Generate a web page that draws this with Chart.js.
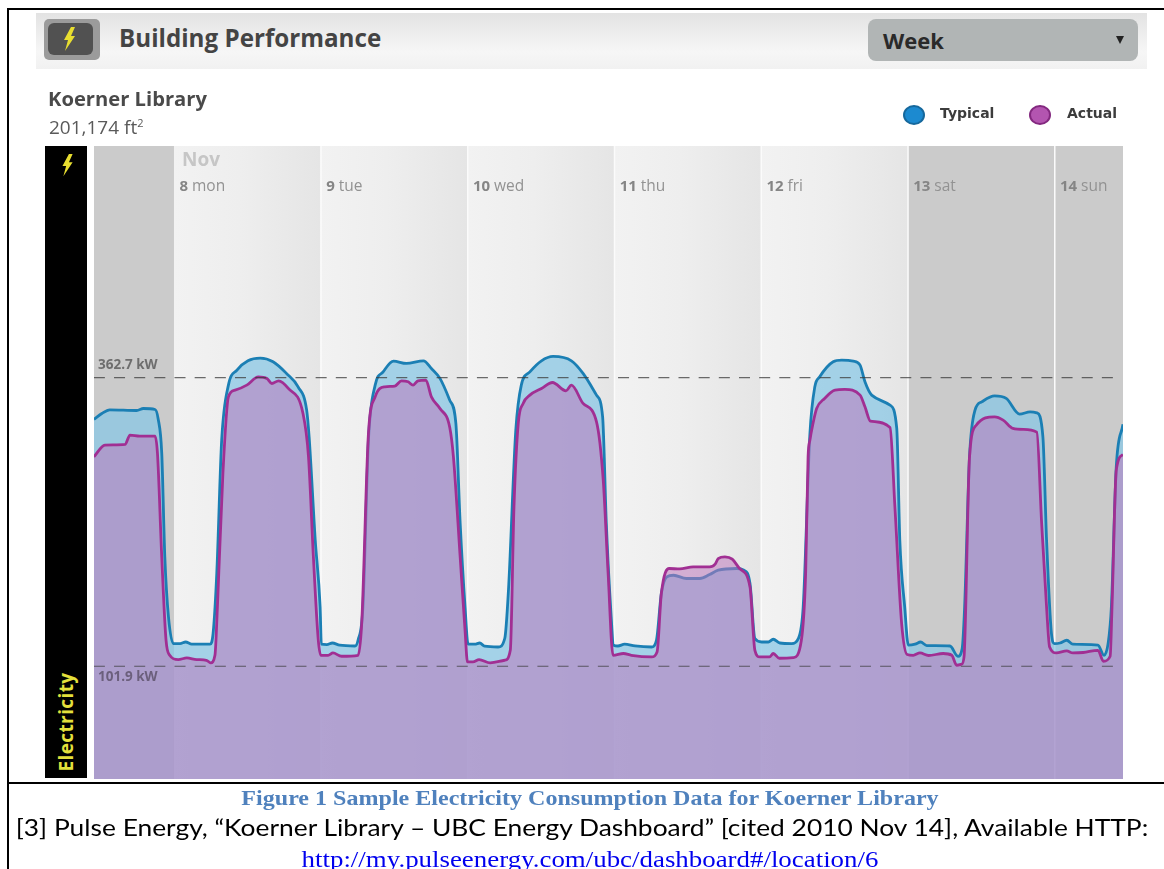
<!DOCTYPE html>
<html lang="en">
<head>
  <meta charset="UTF-8">
  <title>Koerner Library - Building Performance</title>
  <script src="https://cdn.jsdelivr.net/npm/chart.js"></script>
  <style>
    html, body { margin: 0; padding: 0; background: #fff; overflow: hidden; }
    #page { position: relative; width: 1164px; height: 869px; overflow: hidden; font-family: "Open Sans", sans-serif; }
    #page > * { position: absolute; }
    #myChart { left: 0; top: 0; }
    .rule { background: #000; }
    #headerBar { left: 36px; top: 13px; width: 1111px; height: 56px; background: linear-gradient(#e3e3e3, #f6f6f6 70%, #f1f1f1); }
    #iconBox { left: 44px; top: 19px; width: 56px; height: 41px; background: #9b9b9b; border-radius: 5px; }
    #iconInner { left: 48px; top: 23px; width: 45px; height: 32px; background: #515151; border-radius: 6px; }
    #title { left: 119px; top: 21px; font-size: 24.2px; line-height: 34px; font-weight: 700; color: #444; white-space: nowrap; }
    #selectBox { left: 868px; top: 19px; width: 270px; height: 42px; background: #b1b5b5; border-radius: 8px; }
    #selectText { left: 883px; top: 24px; font-size: 22px; line-height: 32px; font-weight: 700; color: #2a2a2a; }
    #selectArrow { left: 1116px; top: 36px; width: 0; height: 0; border-left: 4px solid transparent; border-right: 4px solid transparent; border-top: 8px solid #222; }
    #building { left: 48px; top: 84px; font-size: 20.2px; line-height: 28px; font-weight: 700; color: #4a4a4a; white-space: nowrap; }
    #area { left: 49px; top: 113px; font-size: 19px; line-height: 28px; color: #5a5a5a; white-space: nowrap; }
    #area sup { font-size: 11px; line-height: 0; }
    .dot { width: 22px; height: 20px; border-radius: 50%; box-sizing: border-box; }
    #dotTypical { left: 903px; top: 105px; background: #1c8ad0; border: 2px solid #16689c; }
    #dotActual { left: 1029px; top: 105px; background: #b355b0; border: 2px solid #83287f; }
    .legendText { top: 103px; font-family: "DejaVu Sans", sans-serif; font-size: 14px; line-height: 20px; font-weight: 700; color: #3c3c3c; }
    #sideBar { left: 45px; top: 146px; width: 42px; height: 632px; background: #000; }
    #sideText { left: 66px; top: 722px; transform: translate(-50%, -50%) rotate(-90deg); font-size: 19px; line-height: 24px; font-weight: 700; letter-spacing: 0.4px; color: #e4e03c; white-space: nowrap; }
    .caption { left: 0; width: 1164px; text-align: center; white-space: nowrap; }
    #figCaption { left: 8px; top: 785px; font-family: "Liberation Serif", serif; font-size: 21px; line-height: 26px; font-weight: 700; color: #4f81bd; transform: scaleX(1.145); }
    #citation { left: 0; top: 811px; font-family: Lato, sans-serif; font-size: 23.5px; line-height: 32px; color: #000; transform: scaleX(1.122); }
    #link { left: 8px; top: 846px; font-family: "Liberation Serif", serif; font-size: 24px; line-height: 26px; color: #0000ee; transform: scaleX(1.12); }
  </style>
</head>
<body>
<div id="page">
  <canvas id="myChart" width="1164" height="869"></canvas>

  <div class="rule" style="left:8px;top:8px;width:1156px;height:2px"></div>
  <div class="rule" style="left:7px;top:8px;width:2px;height:861px"></div>
  <div class="rule" style="left:8px;top:782px;width:1156px;height:2px"></div>

  <div id="headerBar"></div>
  <div id="iconBox"></div>
  <div id="iconInner"></div>
  <svg style="left:62px;top:27px" width="16" height="26" viewBox="0 0 16 26"><polygon points="9,0 2,13 6,13 3,24 13,9 9,9 13,0" fill="#e8de30"/></svg>
  <div id="title">Building Performance</div>
  <div id="selectBox"></div>
  <div id="selectText">Week</div>
  <div id="selectArrow"></div>

  <div id="building">Koerner Library</div>
  <div id="area">201,174 ft<sup>2</sup></div>

  <div class="dot" id="dotTypical"></div>
  <div class="legendText" style="left:940px">Typical</div>
  <div class="dot" id="dotActual"></div>
  <div class="legendText" style="left:1067px">Actual</div>

  <div id="sideBar"></div>
  <svg style="left:60px;top:154px" width="16" height="24" viewBox="0 0 16 26"><polygon points="9,0 2,13 6,13 3,24 13,9 9,9 13,0" fill="#e8de30"/></svg>
  <div id="sideText">Electricity</div>

  <div class="caption" id="figCaption">Figure 1 Sample Electricity Consumption Data for Koerner Library</div>
  <div class="caption" id="citation">[3] Pulse Energy, “Koerner Library – UBC Energy Dashboard” [cited 2010 Nov 14], Available HTTP:</div>
  <div class="caption" id="link">http://my.pulseenergy.com/ubc/dashboard#/location/6</div>
</div>

<script>
  // hours counted from the start of Nov 8, kW
  const typicalHours = [-13.1,-11.8,-10.5,-6.1,-5.0,-3.1,-2.6,-2.0,-1.5,-0.9,-0.1,1.0,1.9,2.9,5.9,6.4,7.0,7.8,8.9,10.3,12.1,14.1,16.2,18.4,20.3,21.7,22.1,23.1,23.9,
    24.1,25.0,25.9,27.1,29.6,30.1,30.9,31.8,32.9,34.2,35.9,38.0,40.8,42.1,43.5,45.1,46.1,46.8,47.6,
    48.1,49.2,50.0,50.8,53.0,54.1,54.7,55.9,56.8,58.2,60.1,62.0,65.0,66.9,69.1,70.1,70.7,71.4,
    71.9,72.6,73.7,75.4,78.1,78.9,79.7,80.6,81.7,83.8,86.0,87.6,89.0,92.0,93.2,94.2,95.0,
    96.1,97.2,98.0,99.1,101.0,102.1,102.9,104.0,104.8,105.6,107.8,109.2,111.1,112.2,113.0,114.1,117.1,118.2,118.7,119.5,
    120.1,121.2,122.1,123.1,126.9,128.2,128.9,129.3,130.1,131.0,132.1,134.2,136.1,138.3,140.0,141.1,142.1,142.7,143.5,
    144.0,144.9,146.0,147.0,151.1,152.1,152.8,153.3,154.1,155.2];
  const typicalKw = [324.9,330.3,333.6,333.0,334.8,333.9,325.8,294.2,200.7,146.4,122.4,122.4,123.8,121.8,121.8,131.7,186.0,306.2,355.9,369.5,377.9,380.3,377.0,366.5,354.4,333.3,309.2,215.8,155.5,
    121.8,121.5,122.9,120.9,120.2,125.4,155.5,306.2,355.9,367.9,377.6,375.5,377.9,371.0,362.0,342.3,321.3,231.2,155.5,
    121.8,121.8,122.9,120.0,119.3,127.2,170.6,315.2,355.9,367.9,377.9,381.9,377.9,366.5,346.9,327.2,231.2,155.5,
    120.9,120.2,121.8,120.2,119.3,125.4,167.6,182.6,184.1,181.2,181.2,184.8,188.7,190.2,188.7,176.6,126.9,
    123.8,123.8,126.3,122.9,122.4,126.9,155.5,312.2,354.4,363.4,377.0,378.5,377.6,374.0,358.9,346.9,337.8,316.8,215.8,155.5,
    120.9,121.8,123.8,120.6,120.2,110.9,117.9,155.5,291.1,333.3,340.8,346.2,343.9,329.7,331.8,330.9,309.2,215.8,131.4,
    122.4,122.9,125.4,121.8,120.9,111.8,123.8,155.5,282.0,320.6];

  const actualHours = [-13.1,-11.3,-8.0,-7.2,-5.6,-3.1,-2.7,-2.0,-1.3,-0.7,0.7,2.1,3.7,5.3,6.0,6.7,7.1,8.0,8.9,10.0,11.9,13.8,15.2,16.0,17.1,18.7,21.1,22.0,22.8,23.6,
    24.0,25.2,26.0,27.4,30.1,30.7,31.8,32.9,34.5,36.1,37.2,38.3,39.1,39.9,41.2,42.1,43.5,45.1,45.7,46.8,47.6,
    48.0,48.9,49.9,51.7,54.1,55.0,55.6,56.3,57.1,58.2,60.1,61.9,64.1,65.0,66.9,69.1,70.2,71.0,71.8,
    73.5,74.8,78.1,79.0,79.7,81.0,82.7,84.9,87.6,88.5,89.0,90.1,91.3,92.5,94.2,95.0,95.8,
    97.4,98.0,99.0,101.3,102.6,103.3,103.7,104.0,104.5,105.1,106.4,108.1,109.7,112.2,113.0,113.9,117.1,117.9,119.0,119.9,
    120.9,122.0,123.4,125.8,127.2,128.0,128.8,129.2,130.1,131.2,134.2,135.6,137.2,138.9,141.1,141.9,142.7,143.2,
    144.3,146.0,147.0,148.7,151.1,152.0,153.1,153.4,154.1,155.2];
  const actualKw = [291.1,301.7,302.3,310.7,309.8,309.8,294.2,200.7,125.4,111.8,107.9,109.4,107.9,107.3,104.9,111.8,155.5,276.1,345.3,351.4,355.9,363.4,362.0,357.4,359.8,352.9,330.3,291.1,200.7,125.4,
    111.8,111.8,113.9,110.9,111.8,140.8,312.2,345.3,354.4,355.0,359.8,358.9,355.9,359.8,360.4,345.3,334.8,317.7,291.1,200.7,134.4,
    105.8,105.8,107.9,104.9,107.3,116.3,245.9,321.3,339.4,346.9,352.9,358.3,350.8,355.9,339.4,322.7,270.0,185.7,111.8,
    113.4,111.8,110.3,114.8,167.6,190.2,189.8,191.6,191.6,194.1,199.2,200.7,198.6,190.2,173.6,116.3,110.3,
    110.3,113.4,109.1,109.7,125.4,186.0,291.1,306.2,321.3,334.8,343.9,351.4,352.0,346.9,336.3,323.4,317.7,245.9,140.5,112.5,
    111.8,113.9,111.6,113.4,111.8,102.8,103.7,110.3,291.1,319.7,327.2,324.3,316.8,315.9,313.4,230.9,155.5,119.3,
    113.9,115.7,113.9,114.3,116.3,106.4,110.9,155.5,279.1,293.3];

  const dayStarts = [0, 24, 48, 72, 96, 120, 144];
  const dayNumbers = ["8", "9", "10", "11", "12", "13", "14"];
  const dayNames = ["mon", "tue", "wed", "thu", "fri", "sat", "sun"];
  const guideValues = [362.7, 101.9];
  const guideLabels = ["362.7 kW", "101.9 kW"];
  const guideRange = [-13.1, 153.6];
  const monthLabel = "Nov";

  function pairs(xs, ys) {
    return xs.map(function (x, i) { return { x: x, y: ys[i] }; });
  }

  // day bands and their labels, placed through the chart's x scale
  const dayBands = {
    id: "dayBands",
    beforeDatasetsDraw: function (chart) {
      const ctx = chart.ctx;
      const a = chart.chartArea;
      const xs = chart.scales.x;
      ctx.save();
      // tail of the sunday before
      ctx.fillStyle = "#cbcbcb";
      ctx.fillRect(a.left, a.top, xs.getPixelForValue(0) - a.left, a.bottom - a.top);
      dayStarts.forEach(function (start, i) {
        const left = xs.getPixelForValue(start);
        const right = Math.min(xs.getPixelForValue(start + 24), a.right);
        if (i >= 5) {
          ctx.fillStyle = "#cbcbcb";
        } else {
          const g = ctx.createLinearGradient(left, 0, right, 0);
          g.addColorStop(0, "#f2f2f2");
          g.addColorStop(0.45, "#eeeeee");
          g.addColorStop(1, "#e5e5e5");
          ctx.fillStyle = g;
        }
        ctx.fillRect(left, a.top, right - left, a.bottom - a.top);
        if (i > 0) {
          ctx.fillStyle = "#fbfbfb";
          ctx.fillRect(left - 0.5, a.top, 1.5, a.bottom - a.top);
        }
      });
      ctx.restore();
    },
    afterDatasetsDraw: function (chart) {
      const ctx = chart.ctx;
      const xs = chart.scales.x;
      const ys = chart.scales.y;
      ctx.save();
      ctx.textBaseline = "middle";
      ctx.font = '700 19px "Open Sans"';
      ctx.fillStyle = "#c6c6c6";
      ctx.fillText(monthLabel, xs.getPixelForValue(0) + 8, chart.chartArea.top + 15);
      dayStarts.forEach(function (start, i) {
        const x = xs.getPixelForValue(start) + 5.5;
        const y = chart.chartArea.top + 41;
        ctx.font = '700 15px "Open Sans"';
        ctx.fillStyle = "#858585";
        ctx.fillText(dayNumbers[i], x, y);
        const w = ctx.measureText(dayNumbers[i] + " ").width;
        ctx.font = '400 15.5px "Open Sans"';
        ctx.fillStyle = "#929292";
        ctx.fillText(dayNames[i], x + w, y);
      });
      ctx.font = '700 13.5px "Open Sans"';
      ctx.fillStyle = "#6e6e6e";
      ctx.fillText(guideLabels[0], xs.left + 4, ys.getPixelForValue(guideValues[0]) - 12);
      ctx.fillStyle = "#6b5f7c";
      ctx.fillText(guideLabels[1], xs.left + 4, ys.getPixelForValue(guideValues[1]) + 11);
      ctx.restore();
    }
  };

  function guideSet(value) {
    return {
      data: pairs(guideRange, [value, value]),
      borderColor: "rgba(60,60,60,0.75)",
      borderWidth: 1.2,
      borderDash: [11, 9.16],
      pointRadius: 0,
      fill: false,
      order: 0
    };
  }

  new Chart(document.getElementById("myChart"), {
    type: "line",
    data: {
      datasets: [
        {
          label: "Typical",
          data: pairs(typicalHours, typicalKw),
          borderColor: "#1b7fb4",
          backgroundColor: "rgba(135,198,228,0.72)",
          borderWidth: 2.8,
          borderJoinStyle: "round",
          cubicInterpolationMode: "monotone",
          pointRadius: 0,
          fill: "origin",
          order: 2
        },
        {
          label: "Actual",
          data: pairs(actualHours, actualKw),
          borderColor: "#a12f93",
          backgroundColor: "rgba(188,120,188,0.54)",
          borderWidth: 2.8,
          borderJoinStyle: "round",
          cubicInterpolationMode: "monotone",
          pointRadius: 0,
          fill: "origin",
          order: 1
        },
        guideSet(guideValues[0]),
        guideSet(guideValues[1])
      ]
    },
    options: {
      responsive: false,
      animation: false,
      layout: { padding: { left: 94, top: 146, right: 41, bottom: 90 } },
      plugins: { legend: { display: false }, tooltip: { enabled: false } },
      scales: {
        x: { type: "linear", min: -13.08, max: 155.2, display: false },
        y: { min: 0, max: 572, display: false }
      }
    },
    plugins: [dayBands]
  });
</script>
</body>
</html>
